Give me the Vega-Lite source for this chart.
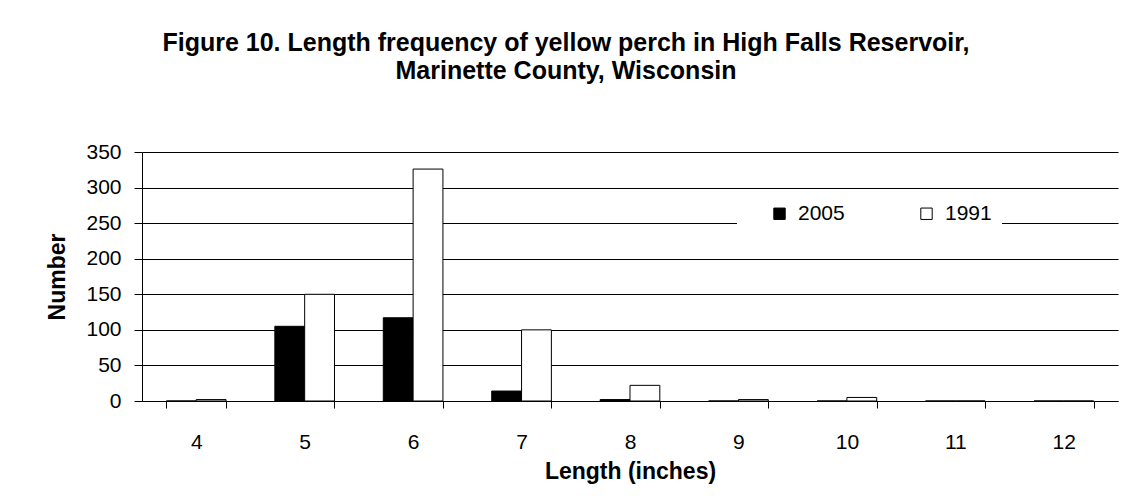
{
  "$schema": "https://vega.github.io/schema/vega-lite/v6.json",
  "autosize": "none",
  "width": 976,
  "height": 249,
  "padding": {"left": 142, "top": 152, "right": 12, "bottom": 95},
  "background": "white",
  "title": {
    "text": ["Figure 10. Length frequency of yellow perch in High Falls Reservoir,", "Marinette County, Wisconsin"],
    "font": "Liberation Sans",
    "fontSize": 25,
    "fontWeight": "bold",
    "color": "black",
    "anchor": "middle",
    "frame": "group",
    "dx": -64,
    "offset": 57,
    "lineHeight": 28
  },
  "data": {
    "values": [
      {"length": "4", "year": "2005", "number": 0},
      {"length": "4", "year": "1991", "number": 2},
      {"length": "5", "year": "2005", "number": 105},
      {"length": "5", "year": "1991", "number": 150},
      {"length": "6", "year": "2005", "number": 117},
      {"length": "6", "year": "1991", "number": 326},
      {"length": "7", "year": "2005", "number": 14},
      {"length": "7", "year": "1991", "number": 100},
      {"length": "8", "year": "2005", "number": 2},
      {"length": "8", "year": "1991", "number": 22},
      {"length": "9", "year": "2005", "number": 0},
      {"length": "9", "year": "1991", "number": 2},
      {"length": "10", "year": "2005", "number": 0},
      {"length": "10", "year": "1991", "number": 5},
      {"length": "11", "year": "2005", "number": 0},
      {"length": "11", "year": "1991", "number": 0},
      {"length": "12", "year": "2005", "number": 0},
      {"length": "12", "year": "1991", "number": 0}
    ]
  },
  "mark": {"type": "bar", "stroke": "black", "strokeWidth": 1},
  "encoding": {
    "x": {
      "field": "length",
      "type": "nominal",
      "sort": ["4", "5", "6", "7", "8", "9", "10", "11", "12"],
      "scale": {"paddingInner": 0.45, "paddingOuter": 0.225},
      "axis": {
        "title": "Length (inches)",
        "labelAngle": 0,
        "tickBand": "extent",
        "tickSize": 7,
        "labelPadding": 23,
        "titlePadding": 8
      }
    },
    "xOffset": {"field": "year", "type": "nominal", "sort": ["2005", "1991"]},
    "y": {
      "field": "number",
      "type": "quantitative",
      "scale": {"domain": [0, 350]},
      "axis": {
        "title": "Number",
        "values": [0, 50, 100, 150, 200, 250, 300, 350],
        "tickSize": 8,
        "labelPadding": 13,
        "titlePadding": 16,
        "grid": true
      }
    },
    "fill": {
      "field": "year",
      "type": "nominal",
      "sort": ["2005", "1991"],
      "scale": {"domain": ["2005", "1991"], "range": ["black", "white"]},
      "legend": {
        "title": "\u00a0",
        "titleOrient": "left",
        "titlePadding": 22,
        "orient": "none",
        "direction": "horizontal",
        "legendX": 595,
        "legendY": 41,
        "fillColor": "white",
        "padding": 10,
        "symbolType": "square",
        "symbolSize": 130,
        "symbolStrokeColor": "black",
        "symbolStrokeWidth": 1,
        "labelOffset": 8,
        "columnPadding": 71,
        "labelExpr": "datum.label == '1991' ? '1991\u00a0\u00a0\u00a0\u00a0\u00a0\u00a0' : datum.label"
      }
    }
  },
  "config": {
    "view": {"stroke": null},
    "font": "Liberation Sans",
    "axis": {
      "domainColor": "black",
      "tickColor": "black",
      "gridColor": "black",
      "gridOpacity": 1,
      "labelColor": "black",
      "titleColor": "black",
      "labelFont": "Liberation Sans",
      "titleFont": "Liberation Sans",
      "labelFontSize": 21,
      "titleFontSize": 23,
      "titleFontWeight": "bold"
    },
    "legend": {
      "labelFont": "Liberation Sans",
      "labelFontSize": 21,
      "labelColor": "black"
    }
  }
}
